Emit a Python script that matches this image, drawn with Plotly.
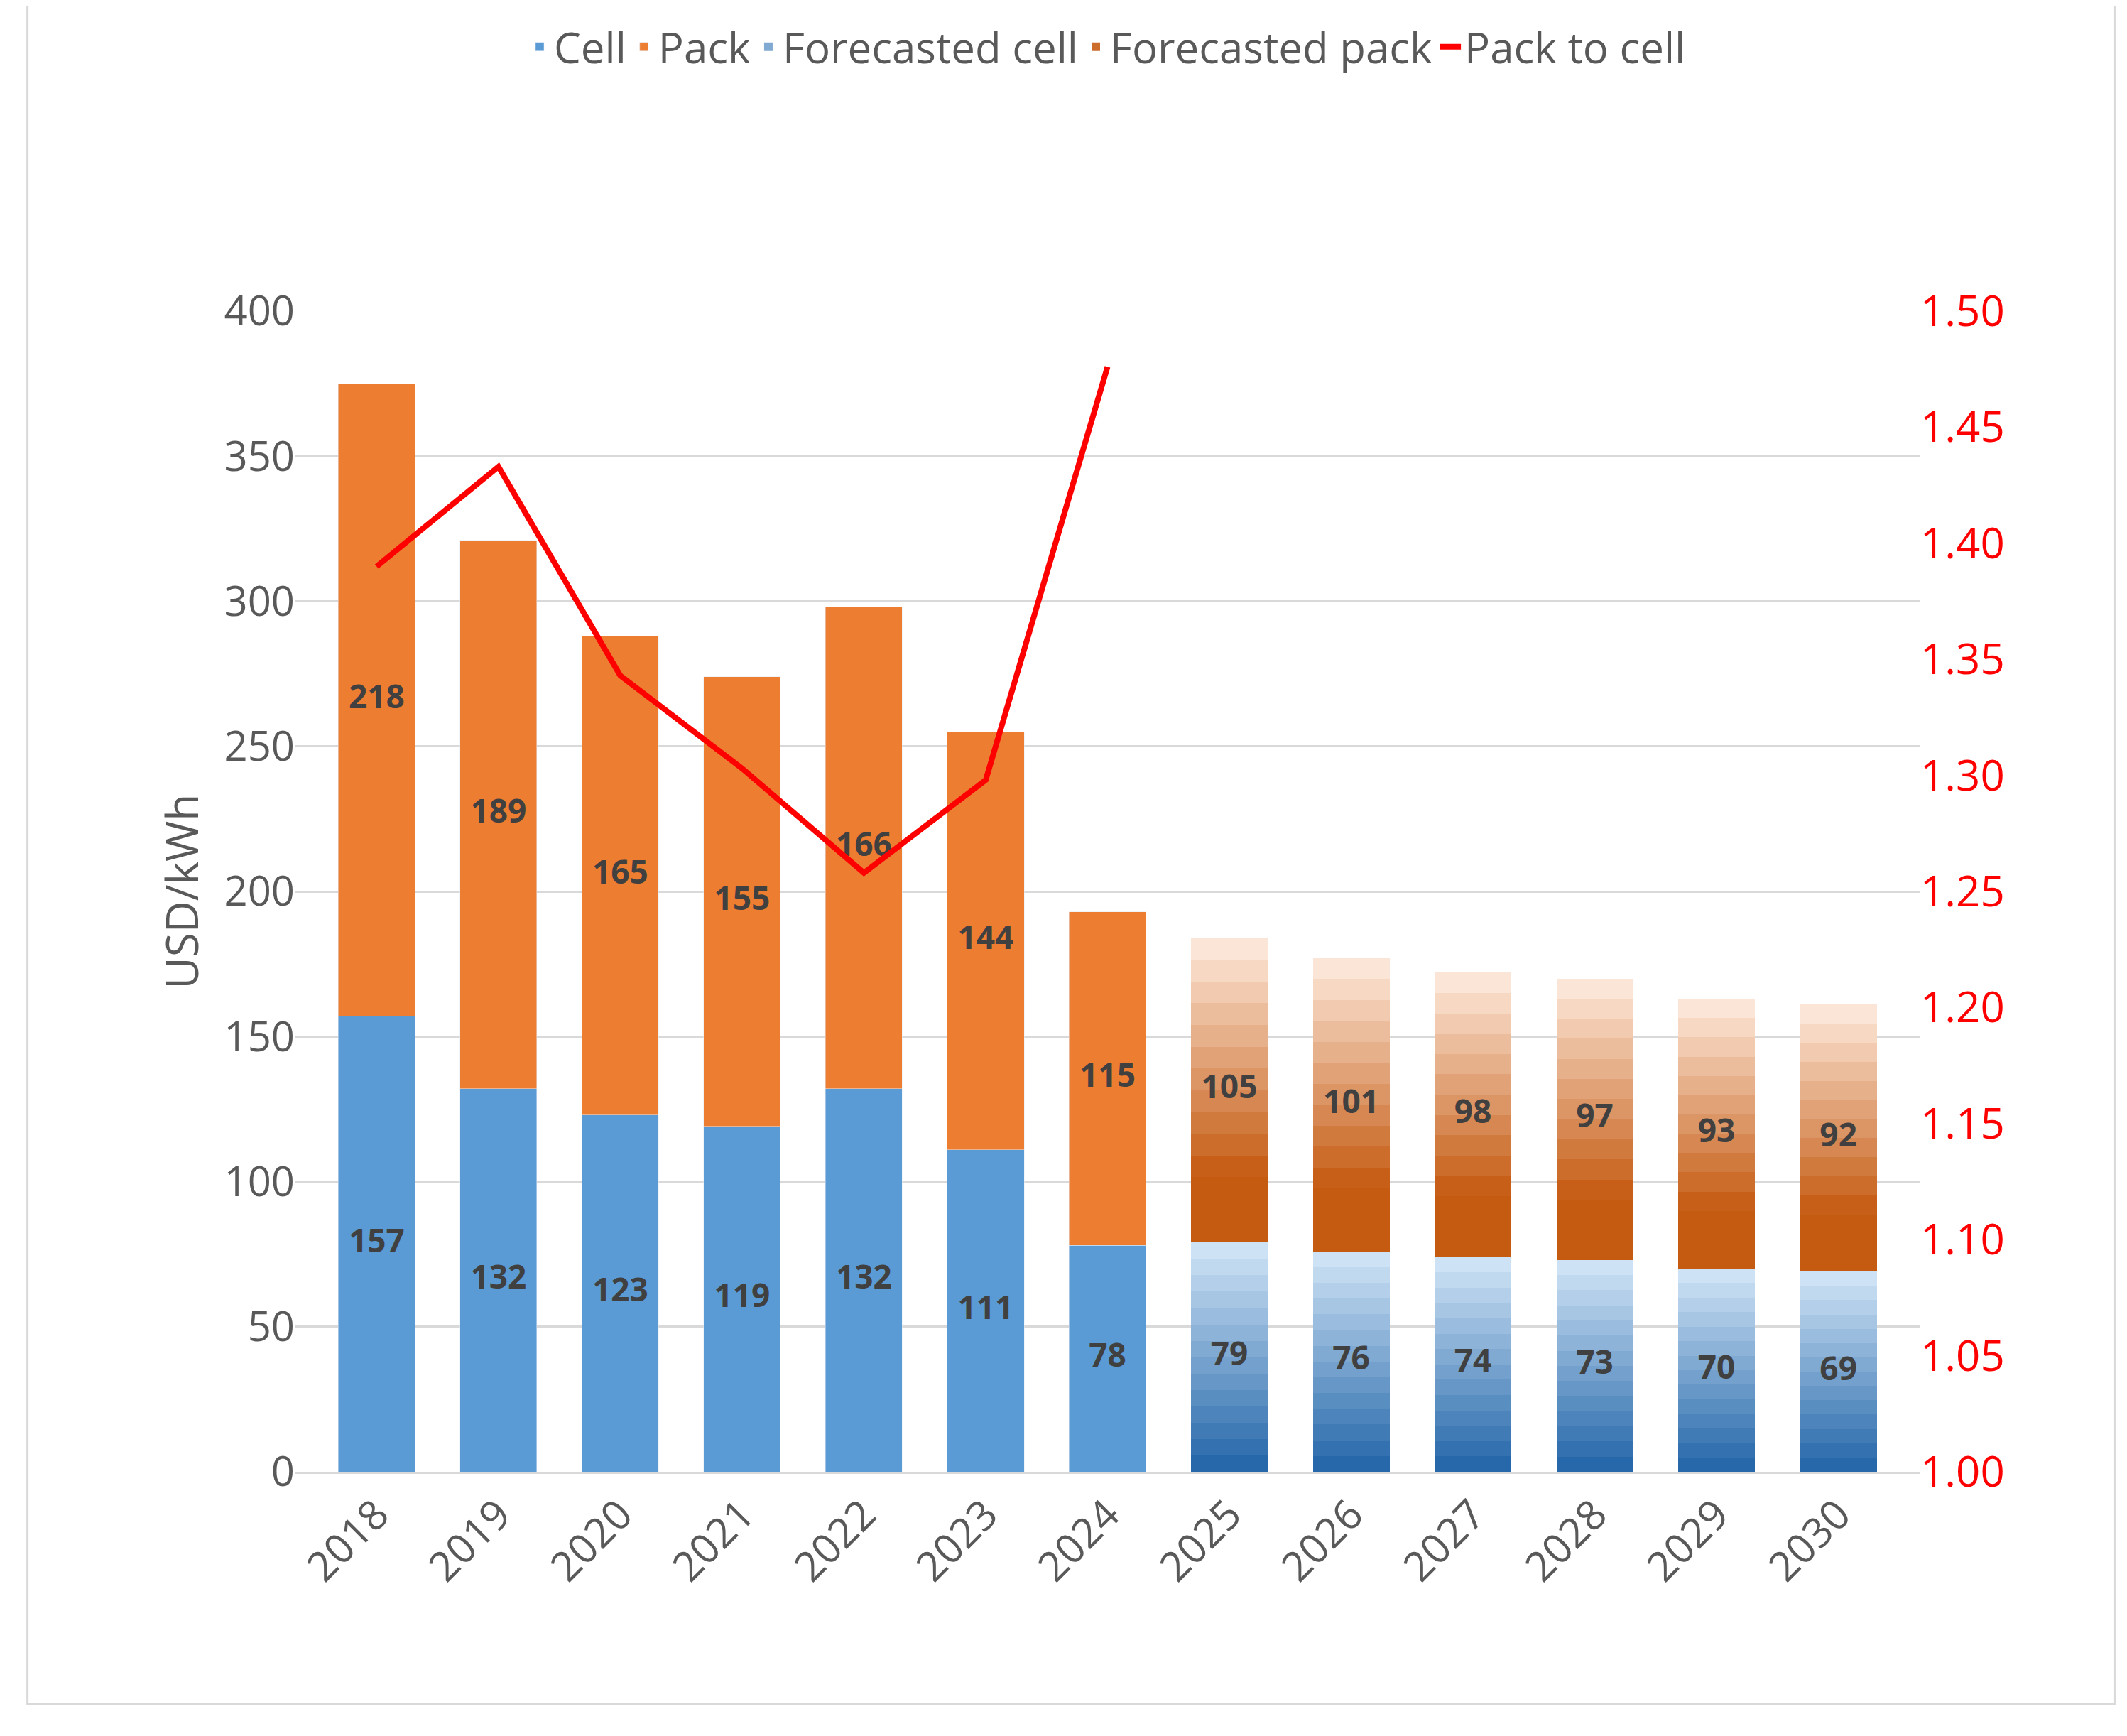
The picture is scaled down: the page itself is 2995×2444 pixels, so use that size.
import plotly.graph_objects as go

years = ["2018","2019","2020","2021","2022","2023","2024","2025","2026","2027","2028","2029","2030"]
cell = [157,132,123,119,132,111,78,79,76,74,73,70,69]
pack = [218,189,165,155,166,144,115,105,101,98,97,93,92]
ratio = [1.39,1.433,1.343,1.303,1.258,1.298,1.476]
n_actual = 7

fig = go.Figure()
ay, ac, ap = years[:n_actual], cell[:n_actual], pack[:n_actual]
fy, fc, fp = years[n_actual:], cell[n_actual:], pack[n_actual:]

fig.add_bar(x=ay, y=ac, name="Cell", marker_color="#5B9BD5", offsetgroup="a", legendrank=1)
fig.add_bar(x=ay, y=ap, name="Pack", marker_color="#ED7D31", offsetgroup="a", legendrank=2)

def lerp(c1, c2, t):
    return "rgb(%d,%d,%d)" % tuple(round(a + (b - a) * t) for a, b in zip(c1, c2))

N = 14
dark_b, light_b = (38, 104, 170), (205, 226, 245)
for i in range(N):
    t = i / (N - 1)
    fig.add_bar(x=fy, y=[v / N for v in fc], marker_color=lerp(dark_b, light_b, t),
                marker_line_width=0, name="Forecasted cell", showlegend=(i == N // 2),
                legendrank=3, offsetgroup="a")
dark_o, light_o = (197, 90, 17), (251, 229, 214)
for i in range(N):
    t = min(1, max(0, (i / (N - 1) - 0.2) / 0.8))
    fig.add_bar(x=fy, y=[v / N for v in fp], marker_color=lerp(dark_o, light_o, t),
                marker_line_width=0, name="Forecasted pack", showlegend=(i == N // 3),
                legendrank=4, offsetgroup="a")

lab_font = dict(family="Open Sans", size=46, color="#404040")
fig.add_scatter(x=years, y=[c / 2 for c in cell], mode="text", text=[f"<b>{c}</b>" for c in cell],
                textfont=lab_font, showlegend=False, hoverinfo="skip")
fig.add_scatter(x=years, y=[c + p / 2 for c, p in zip(cell, pack)], mode="text",
                text=[f"<b>{p}</b>" for p in pack], textfont=lab_font, showlegend=False, hoverinfo="skip")

fig.add_scatter(x=ay, y=ratio, mode="lines", name="Pack to cell", yaxis="y2",
                line=dict(color="#FF0000", width=8), legendrank=5)

fig.update_layout(
    width=2995, height=2444, barmode="stack", bargap=0.37,
    plot_bgcolor="white", paper_bgcolor="white",
    font=dict(family="Open Sans", size=58, color="#595959"),
    margin=dict(l=408, r=300, t=320, b=380),
    legend=dict(orientation="h", x=0.5, xanchor="center", y=1.2, yanchor="bottom",
                font=dict(size=60, color="#595959"), traceorder="normal"),
    xaxis=dict(tickangle=-45, showline=True, linecolor="#D9D9D9", linewidth=3,
               tickfont=dict(size=58)),
    yaxis=dict(range=[0, 400], dtick=50, gridcolor="#D9D9D9", gridwidth=3,
               title=dict(text="USD/kWh", font=dict(size=62)), zeroline=False),
    yaxis2=dict(overlaying="y", side="right", range=[1.0, 1.5], dtick=0.05,
                tickformat=".2f", showgrid=False, tickfont=dict(color="#FF0000", size=60)),
    shapes=[dict(type="rect", xref="paper", yref="paper", x0=-0.165, x1=1.12, y0=-0.2, y1=1.275,
                 line=dict(color="#D9D9D9", width=3))],
)
fig.write_html("out.html")
